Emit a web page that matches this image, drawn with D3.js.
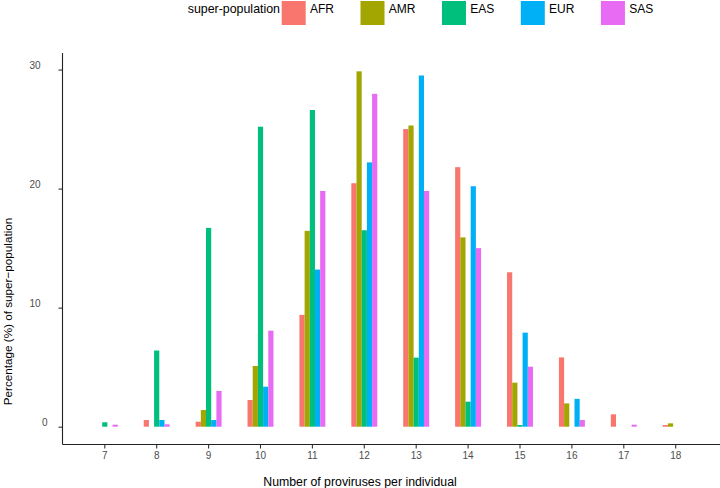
<!DOCTYPE html>
<html>
<head>
<meta charset="utf-8">
<script src="https://cdn.jsdelivr.net/npm/d3@7"></script>
<style>
  html, body { margin: 0; padding: 0; background: #fff; }
  svg { display: block; font-family: "Liberation Sans", Arial, sans-serif; }
</style>
</head>
<body>
<svg id="chart" width="720" height="488"></svg>
<script>
// ---- data ----
const categories = ["7", "8", "9", "10", "11", "12", "13", "14", "15", "16", "17", "18"];
const seriesNames = ["AFR", "AMR", "EAS", "EUR", "SAS"];
const seriesColors = ["#F8766D", "#A3A500", "#00BF7D", "#00B0F6", "#E76BF3"];
const AFR = [0, 0.56, 0.42, 2.24, 9.39, 20.45, 25.0, 21.8, 12.97, 5.82, 1.04, 0.14];
const AMR = [0, 0, 1.4, 5.1, 16.45, 29.85, 25.3, 15.9, 3.7, 1.96, 0, 0.28];
const EAS = [0.37, 6.4, 16.7, 25.2, 26.6, 16.5, 5.8, 2.1, 0.14, 0, 0, 0];
const EUR = [0, 0.56, 0.56, 3.36, 13.2, 22.2, 29.5, 20.2, 7.9, 2.34, 0, 0];
const SAS = [0.17, 0.2, 3.0, 8.07, 19.8, 27.96, 19.8, 15.0, 5.04, 0.56, 0.17, 0];
const yTicks = [0, 10, 20, 30];
const legendTitle = "super-population";
const xTitle = "Number of proviruses per individual";
const yTitle = "Percentage (%) of super\u2212population";

const seriesValues = [AFR, AMR, EAS, EUR, SAS];
const rows = [];
categories.forEach((c, i) => {
  seriesNames.forEach((s, j) => {
    rows.push({ cat: c, series: s, value: seriesValues[j][i] });
  });
});

// ---- layout ----
const svg = d3.select("#chart");
const axisLeftX = 62.5, axisBottomY = 444.5, panelTop = 53, panelRight = 720;

const y = d3.scaleLinear().domain([-1.495, 31.39]).range([axisBottomY, panelTop]);

const step = 51.9;
const firstCenter = 104.8;
const x0 = d3.scaleBand()
  .domain(categories)
  .range([firstCenter - step / 2, firstCenter + (categories.length - 0.5) * step])
  .paddingInner(0.5)
  .paddingOuter(0.25);
const x1 = d3.scaleBand().domain(seriesNames).range([0, x0.bandwidth()]);
const color = d3.scaleOrdinal().domain(seriesNames).range(seriesColors);

// ---- bars ----
svg.append("g")
  .selectAll("rect")
  .data(rows.filter(d => d.value > 0))
  .join("rect")
  .attr("x", d => x0(d.cat) + x1(d.series))
  .attr("width", x1.bandwidth())
  .attr("y", d => y(d.value))
  .attr("height", d => y(0) - y(d.value))
  .attr("fill", d => color(d.series));

// ---- x axis ----
const xAxis = svg.append("g")
  .attr("transform", `translate(0,${axisBottomY})`)
  .call(d3.axisBottom(x0).tickSize(4).tickPadding(3).tickSizeOuter(0));
xAxis.select(".domain").remove();
xAxis.append("line")
  .attr("x1", axisLeftX).attr("x2", panelRight)
  .attr("y1", 0).attr("y2", 0)
  .attr("stroke", "#222").attr("stroke-width", 1.1);
xAxis.selectAll(".tick line").attr("stroke", "#333").attr("stroke-width", 1.1);
xAxis.selectAll(".tick text")
  .attr("fill", "#4d4d4d").style("font-size", "10px");

// ---- y axis ----
const yAxis = svg.append("g")
  .attr("transform", `translate(${axisLeftX},0)`)
  .call(d3.axisLeft(y).tickValues(yTicks).tickSize(4).tickPadding(18).tickSizeOuter(0));
yAxis.select(".domain").remove();
yAxis.append("line")
  .attr("x1", 0).attr("x2", 0)
  .attr("y1", panelTop).attr("y2", axisBottomY)
  .attr("stroke", "#222").attr("stroke-width", 1.1);
yAxis.selectAll(".tick line").attr("stroke", "#333").attr("stroke-width", 1.1);
yAxis.selectAll(".tick text")
  .attr("fill", "#4d4d4d").style("font-size", "10px")
  .attr("dy", "-0.1em")
  .attr("x", d => String(d).length === 1 ? -15 : -22);

// ---- axis titles ----
svg.append("text")
  .attr("x", 360).attr("y", 485.5)
  .attr("text-anchor", "middle")
  .attr("fill", "#000")
  .style("font-size", "12.3px")
  .text(xTitle);

svg.append("text")
  .attr("transform", "translate(12,311.5) rotate(-90)")
  .attr("text-anchor", "middle")
  .attr("fill", "#000")
  .style("font-size", "11.7px")
  .text(yTitle);

// ---- legend ----
const legend = svg.append("g");
legend.append("text")
  .attr("x", 280).attr("y", 13)
  .attr("text-anchor", "end")
  .attr("fill", "#000")
  .style("font-size", "12.4px")
  .text(legendTitle);

let cursor = 281.7;
seriesNames.forEach((s) => {
  const g = legend.append("g");
  g.append("rect")
    .attr("x", cursor).attr("y", 1)
    .attr("width", 24).attr("height", 24)
    .attr("fill", color(s));
  const t = g.append("text")
    .attr("x", cursor + 28.3).attr("y", 13.4)
    .attr("fill", "#000")
    .style("font-size", "12px")
    .text(s);
  cursor = cursor + 28.3 + t.node().getComputedTextLength() + 26.5;
});
</script>
</body>
</html>
